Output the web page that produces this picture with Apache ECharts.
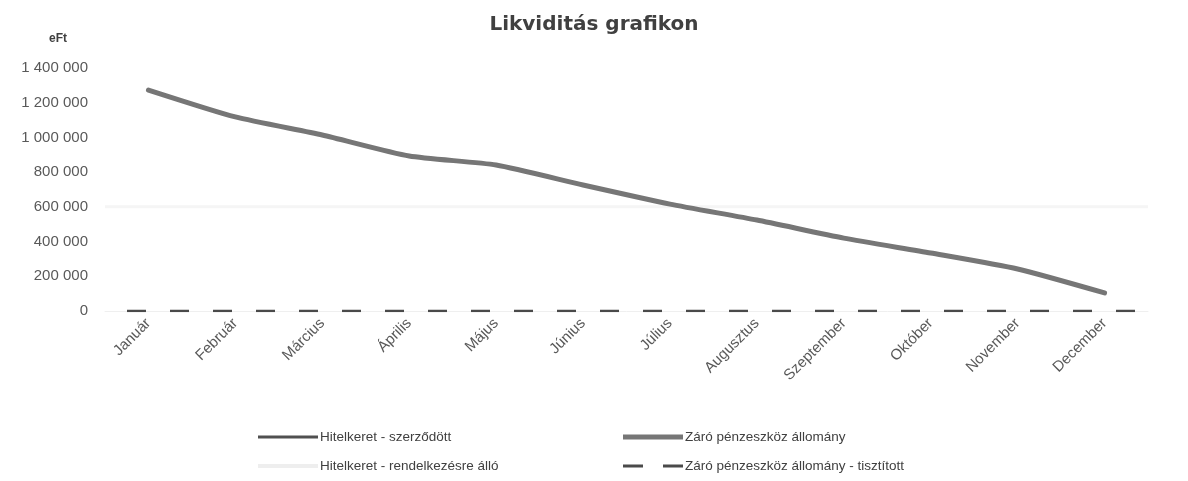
<!DOCTYPE html>
<html>
<head>
<meta charset="utf-8">
<title>Likviditás grafikon</title>
<script src="https://cdn.jsdelivr.net/npm/echarts@6/dist/echarts.min.js"></script>
<style>
  html, body { margin: 0; padding: 0; background: #fff; }
  #chart { width: 1188px; height: 481px; }
</style>
</head>
<body>
<div id="chart"></div>
<script>
const months = ['Január', 'Február', 'Március', 'Április', 'Május', 'Június', 'Július', 'Augusztus', 'Szeptember', 'Október', 'November', 'December']
// eFt
const hitelkeretSzerzodott = [600000, 600000, 600000, 600000, 600000, 600000, 600000, 600000, 600000, 600000, 600000, 600000]
const hitelkeretRendelkezesre = [600000, 600000, 600000, 600000, 600000, 600000, 600000, 600000, 600000, 600000, 600000, 600000]
const zaroPenzeszkoz = [1273000, 1118000, 1014000, 893000, 841000, 726000, 616000, 524000, 420000, 334000, 242000, 104000]
const zaroTisztitott = [0, 0, 0, 0, 0, 0, 0, 0, 0, 0, 0, 0]

const fontFamily = '"Liberation Sans", Arial, sans-serif'
const textColor = '#595959'

function huNumber(v) {
  return String(v).replace(/\B(?=(\d{3})+(?!\d))/g, ' ')
}

// one legend per item, so every icon can get its own thickness
function legendItem(name, left, top, color, thick, icon) {
  return {
    left: left,
    top: top,
    padding: 0,
    icon: icon || 'rect',
    itemWidth: 60,
    itemHeight: thick,
    itemStyle: { color: color },
    textStyle: { fontSize: 13.5, color: '#404040', padding: [0, 0, 0, -3] },
    data: [name]
  }
}

const chart = echarts.init(document.getElementById('chart'))
chart.setOption({
  animation: false,
  textStyle: { fontFamily: fontFamily },
  title: {
    text: 'Likviditás grafikon',
    left: 'center',
    top: 10,
    textStyle: { fontSize: 20, fontWeight: 'bold', color: '#404040', fontFamily: '"DejaVu Sans", sans-serif' }
  },
  grid: { left: 105, right: 40, top: 68, bottom: 170 },
  legend: [
    legendItem('Hitelkeret - szerződött', 258, 430, '#505050', 3),
    legendItem('Hitelkeret - rendelkezésre álló', 258, 459, '#eeeeee', 4),
    legendItem('Záró pénzeszköz állomány', 623, 430, '#767676', 5),
    legendItem('Záró pénzeszköz állomány - tisztított', 623, 459, '#4a4a4a', 3,
      'path://M0,0h20v3H0zM40,0h20v3H40z')
  ],
  xAxis: [{
    type: 'category',
    data: months,
    boundaryGap: true,
    axisLine: { show: true, lineStyle: { color: '#efefef', width: 1 } },
    axisTick: { show: false },
    axisLabel: { rotate: 45, margin: 10, fontSize: 15, color: textColor, interval: 0 }
  }, {
    // flat lines span the whole plot width
    type: 'category',
    data: months,
    boundaryGap: false,
    show: false
  }],
  yAxis: {
    type: 'value',
    min: 0,
    max: 1400000,
    interval: 200000,
    name: 'eFt',
    nameLocation: 'end',
    nameGap: 23,
    nameTextStyle: { fontSize: 12, fontWeight: 'bold', color: '#404040', align: 'right', padding: [0, 38, 0, 0] },
    axisLine: { show: false },
    axisTick: { show: false },
    splitLine: { show: false },
    axisLabel: {
      fontSize: 15,
      color: textColor,
      margin: 17,
      formatter: function(value) {
        return huNumber(value)
      }
    }
  },
  series: [{
    name: 'Hitelkeret - szerződött',
    type: 'line',
    xAxisIndex: 1,
    symbol: 'none',
    itemStyle: { color: '#505050' },
    lineStyle: { color: '#505050', width: 1 },
    data: hitelkeretSzerzodott
  }, {
    name: 'Hitelkeret - rendelkezésre álló',
    type: 'line',
    xAxisIndex: 1,
    symbol: 'none',
    itemStyle: { color: '#eeeeee' },
    lineStyle: { color: '#f5f5f5', width: 3 },
    data: hitelkeretRendelkezesre
  }, {
    name: 'Záró pénzeszköz állomány - tisztított',
    type: 'line',
    xAxisIndex: 1,
    symbol: 'none',
    itemStyle: { color: '#4a4a4a' },
    lineStyle: { color: '#4a4a4a', width: 2.5, type: [19, 24], dashOffset: 21 },
    data: zaroTisztitott
  }, {
    name: 'Záró pénzeszköz állomány',
    type: 'line',
    symbol: 'none',
    smooth: 0.2,
    itemStyle: { color: '#767676' },
    lineStyle: { color: '#767676', width: 5, cap: 'round' },
    data: zaroPenzeszkoz
  }]
})
</script>
</body>
</html>
